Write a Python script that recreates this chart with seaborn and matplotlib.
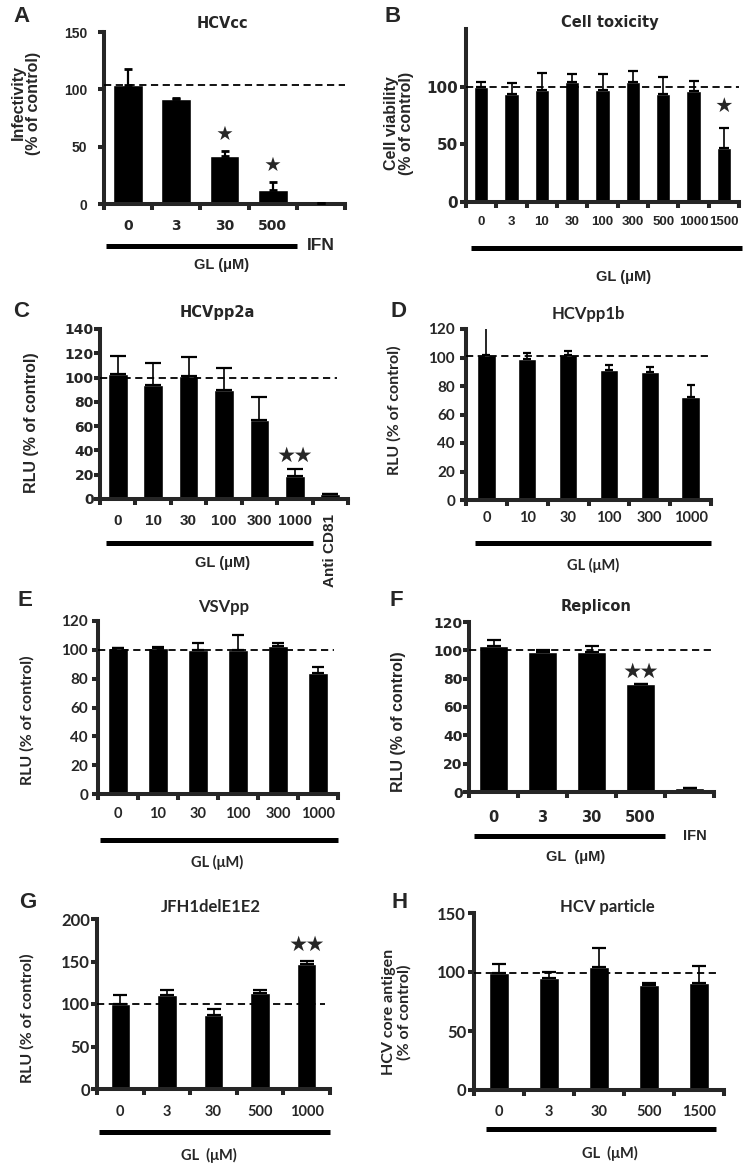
import numpy as np
import pandas as pd
import matplotlib.pyplot as plt
import seaborn as sns

# A  HCVcc
a_doses = ['0', '3', '30', '500', 'IFN']
a_values = [104, 92, 42, 12, 1]
a_errors = [14, 0.5, 4.5, 7, 0]
a_stars = ['', '', '★', '★', '']
a_control = 104

# B  Cell toxicity
b_doses = ['0', '3', '10', '30', '100', '300', '500', '1000', '1500']
b_values = [100, 94, 97, 104, 97, 104, 94, 96, 47]
b_errors = [4, 9, 15, 7, 14, 10, 14, 9, 17]
b_stars = ['', '', '', '', '', '', '', '', '★']
b_control = 100

# C  HCVpp2a
c_doses = ['0', '10', '30', '100', '300', '1000', 'Anti CD81']
c_values = [103, 94, 101, 90, 65, 19, 4]
c_errors = [15, 18, 16, 18, 19, 6, 0]
c_stars = ['', '', '', '', '', '★★', '']
c_control = 100

# D  HCVpp1b
d_doses = ['0', '10', '30', '100', '300', '1000']
d_values = [102, 99, 102, 91, 90, 72]
d_errors = [22, 4, 2.5, 3.5, 3.5, 9]
d_control = 101

# E  VSVpp
e_doses = ['0', '10', '30', '100', '300', '1000']
e_values = [101, 101, 100, 100, 103, 84]
e_errors = [0.5, 0.8, 5, 10.5, 1.5, 4]
e_control = 100

# F  Replicon
f_doses = ['0', '3', '30', '500', 'IFN']
f_values = [103, 99, 99, 76, 3]
f_errors = [4, 1.5, 4, 0.5, 0]
f_stars = ['', '', '', '★★', '']
f_control = 100

# G  JFH1delE1E2
g_doses = ['0', '3', '30', '500', '1000']
g_values = [100, 111, 87, 113, 147]
g_errors = [11, 5, 7, 3.5, 4]
g_stars = ['', '', '', '', '★★']
g_control = 100

# H  HCV particle
h_doses = ['0', '3', '30', '500', '1500']
h_values = [99, 95, 104, 89, 91]
h_errors = [7.5, 5, 16, 2, 14]
h_control = 99

W, H = 753, 1170
ARIAL = ['Liberation Sans', 'DejaVu Sans']
WIDE = ['DejaVu Sans']
CALIBRI = ['Lato', 'DejaVu Sans']
STAR = ['Noto Sans CJK JP', 'DejaVu Sans']

sns.set_style('ticks')
plt.rcParams['font.family'] = ARIAL
plt.rcParams['font.weight'] = 'bold'
plt.rcParams['axes.linewidth'] = 2.9

fig = plt.figure(figsize=(W / 100, H / 100), dpi=100)


def fx(x):
    return x / W


def fy(y):
    return 1 - y / H


def panel(letter, box, doses, values, errors, control, stars=None, **kw):
    l, t, r, b = box
    ax = fig.add_axes([fx(l), fy(b), fx(r - l), (b - t) / H])
    fam = kw.get('family', ARIAL)
    n = len(doses)
    x = np.arange(n)
    df = pd.DataFrame({'dose': doses, 'value': values})
    sns.barplot(data=df, x='dose', y='value', order=doses, color='black',
                saturation=1, width=kw['width'], errorbar=None, ax=ax)
    elw = kw.get('elw', 1.2)
    ax.errorbar(x, values, yerr=[np.zeros(n), errors], fmt='none', ecolor='black',
                elinewidth=elw, capsize=kw['cap'], capthick=elw + 0.4, zorder=3)
    ax.plot([-0.5, kw['dash_end']], [control, control], color='black',
            lw=1.3, ls=(0, (4, 2.5)), zorder=4)

    ax.set_xlim(-0.5, n - 0.5)
    ax.set_ylim(0, kw['ymax'])
    sns.despine(ax=ax)
    ax.set_xlabel('')
    ax.set_ylabel('')
    ax.set_xticks(x)
    side = kw.get('side')
    labels = ['' if d == side else d for d in doses]
    ax.set_xticklabels(labels, fontfamily=kw.get('xfam', fam), fontsize=kw['xfs'],
                       fontweight='bold')
    ax.set_yticks(kw['yticks'])
    ax.set_yticklabels([str(v) for v in kw['yticks']], fontfamily=kw.get('yfam', fam),
                       fontsize=kw['yfs'], fontweight='bold')
    ax.set_xticks(np.arange(-0.5, n), minor=True)
    ax.tick_params(axis='x', which='major', length=0, pad=kw['xpad'])
    ax.tick_params(axis='x', which='minor', length=4.5, width=2.9, direction='out')
    ax.tick_params(axis='y', length=4, width=2.9, pad=kw['ypad'], direction='out')
    if kw.get('rotate_last'):
        lab = ax.get_xticklabels()[-1]
        lab.set_rotation(90)

    if stars:
        for xi, s, v, e in zip(x, stars, values, errors):
            if s:
                ax.annotate(s, (xi, v + e), xytext=(0, kw['star_dy']),
                            textcoords='offset points', ha='center', va='center',
                            fontsize=kw.get('sfs', 12.5), family=STAR,
                            fontweight='normal')

    hpx = b - t
    tr = ax.get_xaxis_transform()
    x0, x1, dy = kw['line']
    ax.plot([x0, x1], [-dy / hpx] * 2, color='black', lw=3.6, transform=tr,
            clip_on=False, solid_capstyle='butt')
    gx, gdy, gtext = kw['gl']
    ax.text(gx, -gdy / hpx, gtext, transform=tr, ha='center', va='center',
            fontsize=10.5, family=fam)
    if side:
        ax.text(kw['side_x'], -dy / hpx, side, transform=tr, ha='center',
                va='center', fontsize=kw.get('side_fs', 10.5), family=fam)

    tx, ty = kw['title_xy']
    fig.text(fx(tx), fy(ty), kw['title'], ha='center', va='center',
             fontsize=kw.get('tfs', 10.5), family=kw.get('tfam', fam))
    yx, yy = kw['ylabel_xy']
    fig.text(fx(yx), fy(yy), kw['ylabel'], rotation=90, ha='center', va='center',
             multialignment='center', fontsize=11.5, family=fam, linespacing=1.05)
    lx, ly = kw['letter_xy']
    fig.text(fx(lx), fy(ly), letter, ha='center', va='center', fontsize=16, family=ARIAL)
    return ax


panel('A', (104, 32, 345, 204), a_doses, a_values, a_errors, a_control, a_stars,
      width=0.62, cap=3.2, elw=1.6, ymax=150, yticks=[0, 50, 100, 150],
      xfam=WIDE, xfs=10, yfs=10, xpad=10.9, ypad=8, dash_end=4.5, star_dy=12, sfs=11.5,
      line=(-0.45, 3.5, 42), gl=(1.93, 61, 'GL (μM)'), side='IFN', side_x=4.0,
      side_fs=12.5, title='HCVcc', tfam=WIDE, title_xy=(222, 23),
      ylabel='Infectivity\n(% of control)', ylabel_xy=(26, 103), letter_xy=(22, 17))

panel('B', (466, 29, 739, 202), b_doses, b_values, b_errors, b_control, b_stars,
      width=0.47, cap=3.6, ymax=150, yticks=[0, 50, 100],
      yfam=WIDE, xfs=9.5, yfs=11, xpad=9.9, ypad=1.7, dash_end=8.5, star_dy=16, sfs=12,
      line=(-0.35, 8.6, 46), gl=(4.68, 75, 'GL (μM)'),
      title='Cell toxicity', tfam=WIDE, title_xy=(610, 22),
      ylabel='Cell viability\n(% of control)', ylabel_xy=(399, 123), letter_xy=(393, 16))

panel('C', (100, 329, 348, 499), c_doses, c_values, c_errors, c_control, c_stars,
      width=0.56, cap=6, ymax=140, yticks=list(range(0, 141, 20)),
      yfam=WIDE, xfs=11, yfs=10, xpad=10.5, ypad=0.5, dash_end=6.2, star_dy=9.5,
      line=(-0.33, 5.5, 44), gl=(2.97, 64, 'GL (μM)'), rotate_last=True,
      title='HCVpp2a', tfam=WIDE, title_xy=(217, 313),
      ylabel='RLU (% of control)', ylabel_xy=(32, 423), letter_xy=(21, 312))

panel('D', (466, 329, 711, 500), d_doses, d_values, d_errors, d_control,
      family=CALIBRI, width=0.45, cap=3, ymax=120, yticks=list(range(0, 121, 20)),
      xfs=10.5, yfs=11, xpad=8.2, ypad=3.9, dash_end=5.5,
      line=(-0.28, 5.5, 43), gl=(2.61, 65, 'GL (μM)'),
      title='HCVpp1b', tfs=12, title_xy=(588, 314),
      ylabel='RLU (% of control)', ylabel_xy=(394, 410), letter_xy=(398, 312))

panel('E', (98, 621, 338, 794), e_doses, e_values, e_errors, e_control,
      family=CALIBRI, width=0.5, cap=4.2, ymax=120, yticks=list(range(0, 121, 20)),
      xfs=10.5, yfs=11, xpad=9.6, ypad=3.2, dash_end=5.4,
      line=(-0.45, 5.5, 46), gl=(2.48, 68, 'GL (μM)'),
      title='VSVpp', tfs=12, title_xy=(224, 607),
      ylabel='RLU (% of control)', ylabel_xy=(27, 720), letter_xy=(25, 601))

panel('F', (469, 622, 714, 792), f_doses, f_values, f_errors, f_control, f_stars,
      width=0.61, cap=4.8, ymax=120, yticks=list(range(0, 121, 20)),
      xfam=WIDE, yfam=WIDE, xfs=10.5, yfs=10, xpad=12.8, ypad=0.5, dash_end=4.5,
      star_dy=8.6, line=(-0.4, 3.5, 44), gl=(1.68, 65, 'GL  (μM)'), side='IFN',
      side_x=4.1, title='Replicon', tfam=WIDE, title_xy=(596, 606),
      ylabel='RLU (% of control)', ylabel_xy=(398, 722), letter_xy=(396, 601))

panel('G', (97, 919, 330, 1089), g_doses, g_values, g_errors, g_control, g_stars,
      family=CALIBRI, width=0.42, cap=4.8, ymax=200, yticks=list(range(0, 201, 50)),
      xfs=10.5, yfs=12, xpad=11.8, ypad=1, dash_end=4.4, star_dy=11.5,
      line=(-0.46, 4.5, 43), gl=(1.9, 66, 'GL  (μM)'),
      title='JFH1delE1E2', tfs=12, title_xy=(211, 907),
      ylabel='RLU (% of control)', ylabel_xy=(27, 1018), letter_xy=(28, 902))

panel('H', (474, 913, 724, 1090), h_doses, h_values, h_errors, h_control,
      family=CALIBRI, width=0.4, cap=4.8, ymax=150, yticks=[0, 50, 100, 150],
      xfs=10.5, yfs=12, xpad=11.1, ypad=1.7, dash_end=4.37,
      line=(-0.26, 4.34, 39), gl=(2.22, 63, 'GL  (μM)'),
      title='HCV particle', tfs=12, title_xy=(607, 907),
      ylabel='HCV core antigen\n(% of control)', ylabel_xy=(397, 1012), letter_xy=(400, 902))

fig.savefig('out.png', dpi=100, facecolor='white')
